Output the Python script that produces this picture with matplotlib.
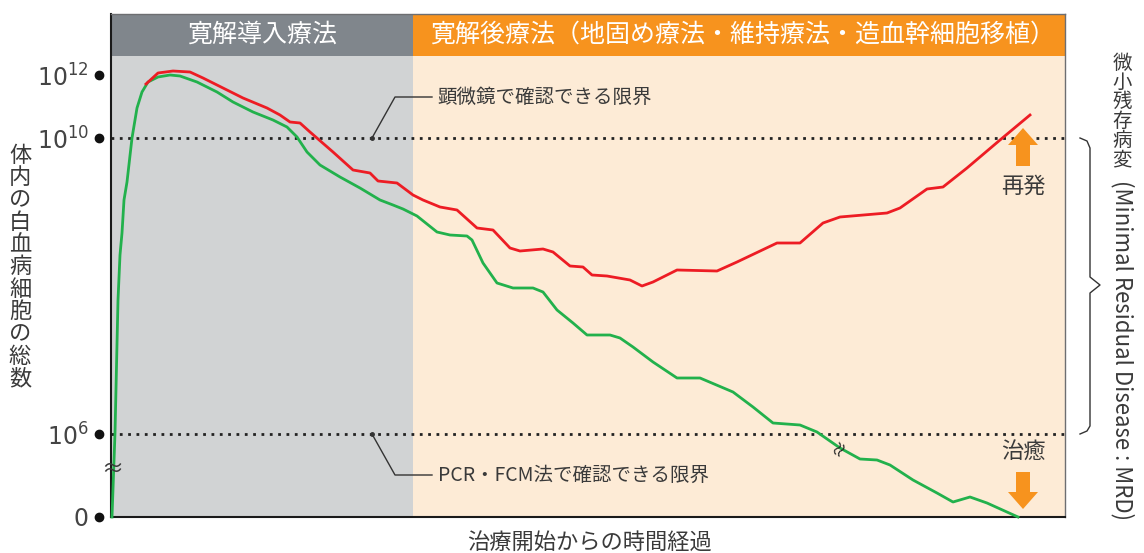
import numpy as np
import matplotlib
matplotlib.use("Agg")
import matplotlib.pyplot as plt
from matplotlib.patches import Rectangle, FancyArrow

plt.rcParams['font.family'] = ['Noto Sans CJK JP', 'DejaVu Sans']

# --- data (time units along x, schematic level units along y) ---
green_t = [1, 4, 7, 9, 11, 13, 16, 21, 26, 31, 37, 47, 59, 69, 86, 106, 122, 142, 162, 176,
           186, 196, 209, 229, 249, 269, 282, 292, 306, 326, 339, 356, 361, 372, 386, 402, 422,
           432, 446, 462, 476, 499, 509, 522, 542, 566, 589, 622, 642, 662, 689, 706, 729, 749,
           766, 779, 802, 826, 842, 859, 876, 907]
green_lv = [0, 84, 217, 262, 284, 317, 335, 379, 409, 425, 435, 440, 442, 441, 435, 425, 415, 405,
            397, 390, 380, 365, 352, 340, 329, 317, 312, 308, 301, 285, 282, 281, 277, 254, 234,
            229, 229, 225, 207, 194, 182, 182, 179, 170, 155, 139, 139, 125, 110, 94, 92, 85, 69,
            58, 57, 52, 37, 24, 15, 20, 14, 0]

red_t = [35, 47, 62, 79, 92, 112, 132, 156, 169, 179, 189, 199, 222, 242, 259, 267, 286, 302,
         312, 329, 346, 366, 382, 399, 409, 432, 442, 459, 472, 481, 496, 519, 531, 542, 566,
         606, 626, 666, 689, 712, 729, 776, 789, 816, 832, 856, 889, 919]
red_lv = [433, 444, 446, 445, 439, 429, 419, 409, 402, 395, 394, 385, 365, 347, 344, 336, 334,
          322, 317, 310, 307, 289, 287, 269, 266, 268, 265, 251, 250, 242, 241, 237, 231, 235,
          247, 246, 255, 274, 274, 294, 300, 304, 309, 328, 330, 349, 377, 402]

tick_levels = [0, 83, 379, 442]
tick_labels = ['0', '10$^{6}$', '10$^{10}$', '10$^{12}$']

phase_names = ['寛解導入療法', '寛解後療法（地固め療法・維持療法・造血幹細胞移植）']
phase_edges = [0, 302, 954]

W, H = 1144, 553
fig = plt.figure(figsize=(W / 100, H / 100), dpi=100)
ax = fig.add_axes([111 / W, 36 / H, 954 / W, 503.5 / H])
ax.set_xlim(0, 954)
ax.set_ylim(0, 503.5)

txt = '#3a3a3a'
band_y = 461.5

# phase backgrounds + headers
body_cols = ['#d1d3d4', '#fdebd6']
head_cols = ['#80868c', '#f7931e']
for i, name in enumerate(phase_names):
    x0, x1 = phase_edges[i], phase_edges[i + 1]
    ax.add_patch(Rectangle((x0, 0), x1 - x0, band_y, color=body_cols[i], zorder=0, lw=0))
    ax.add_patch(Rectangle((x0, band_y), x1 - x0, 503.5 - band_y, color=head_cols[i], zorder=0, lw=0))
    ax.text((x0 + x1) / 2 + (4 if i else 0), (band_y + 503.5) / 2, name, color='white',
            fontsize=18, ha='center', va='center')

# detection limits
for lv in [379, 83]:
    ax.plot([0, 957], [lv, lv], color='#222222', lw=2, ls=(0, (1, 2)), clip_on=False, zorder=2)

# leader lines
ax.plot([261, 284, 321], [379, 420, 420], color='#333333', lw=1, zorder=3)
ax.plot([261], [379], 'o', color='#333333', ms=2.5, zorder=3)
ax.text(326, 420, '顕微鏡で確認できる限界', fontsize=14, color=txt, va='center')
ax.plot([261, 284, 321], [83, 42, 42], color='#333333', lw=1, zorder=3)
ax.plot([261], [83], 'o', color='#333333', ms=2.5, zorder=3)
ax.text(327, 42, 'PCR・FCM法で確認できる限界', fontsize=14, color=txt, va='center')

# curves
ax.plot(green_t, green_lv, color='#22b14c', lw=2, solid_joinstyle='round', zorder=4, clip_on=False)
ax.plot(red_t, red_lv, color='#ed1c24', lw=2, solid_joinstyle='round', zorder=5)

# break marks
ax.text(1, 47, '≈', fontsize=16, color=txt, ha='center', va='center', zorder=6, clip_on=False)
ax.text(729, 69, '≈', fontsize=13, color='#222222', ha='center', va='center', rotation=60, zorder=6)

# arrows
ax.add_patch(FancyArrow(912, 351, 0, 38, width=14, head_width=30, head_length=17,
                        length_includes_head=True, color='#f7931e', lw=0, zorder=6))
ax.text(912, 331, '再発', fontsize=16, color=txt, ha='center', va='center')
ax.add_patch(FancyArrow(912, 45, 0, -37, width=14, head_width=30, head_length=17,
                        length_includes_head=True, color='#f7931e', lw=0, zorder=6))
ax.text(912, 65, '治癒', fontsize=16, color=txt, ha='center', va='center')

# MRD brace
bx = [969, 976, 979, 979, 989, 979, 979, 976, 969]
by = [379, 376, 369, 240, 232, 224, 91, 86, 83]
ax.plot(bx, by, color='#333333', lw=1, clip_on=False)

# axes styling
ax.set_xticks([])
ax.set_yticks(tick_levels)
ax.set_yticklabels(tick_labels, fontsize=17, color='#444444', family='DejaVu Sans')
ax.tick_params(axis='y', length=0, pad=16)
ax.plot([-12] * len(tick_levels), tick_levels, 'o', color='#111111', ms=6, clip_on=False)
for s in ['left', 'bottom']:
    ax.spines[s].set_color('#1a1a1a')
    ax.spines[s].set_linewidth(1.5)
for s in ['top', 'right']:
    ax.spines[s].set_color('#6d6e71')
    ax.spines[s].set_linewidth(1)


def fpos(x, y):
    return x / W, 1 - y / H


# y label, stacked vertically
for i, ch in enumerate('体内の白血病細胞の総数'):
    fig.text(*fpos(20, 155 + i * 22.4), ch, fontsize=16, color=txt, ha='center', va='center')

# right-side MRD label
for i, ch in enumerate('微小残存病変'):
    fig.text(*fpos(1122, 63 + i * 19.4), ch, fontsize=14, color=txt, ha='center', va='center')
fig.text(*fpos(1122, 180), '(Minimal Residual Disease : MRD)', fontsize=16, color=txt,
         ha='center', va='top', rotation=-90)

fig.text(*fpos(589, 543), '治療開始からの時間経過', fontsize=16, color=txt, ha='center', va='center')

fig.savefig('out.png', dpi=100)
